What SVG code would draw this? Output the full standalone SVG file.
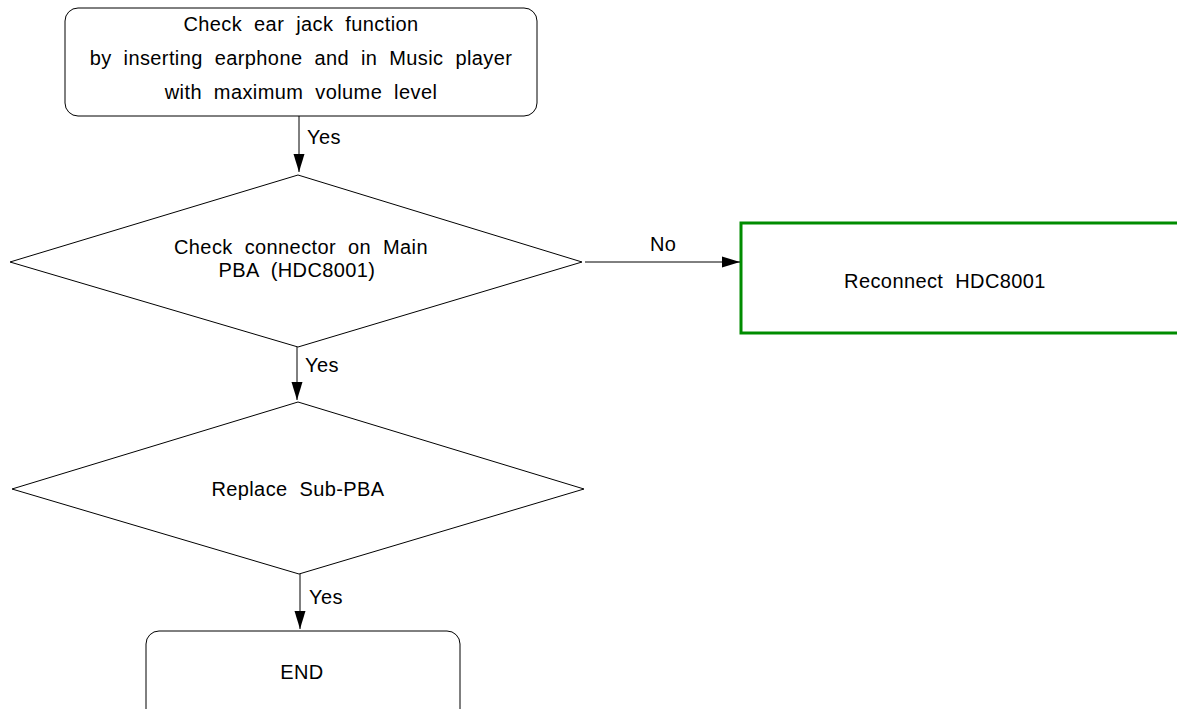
<svg xmlns="http://www.w3.org/2000/svg" width="1177" height="709" viewBox="0 0 1177 709">
<defs>
<style>
.t{font-family:"Liberation Sans",Arial,sans-serif;font-size:20px;fill:#000;text-anchor:middle;letter-spacing:0.4px;word-spacing:6px}
.l{font-family:"Liberation Sans",Arial,sans-serif;font-size:20px;fill:#000;letter-spacing:0.4px}
.s{fill:#fff;stroke:#000;stroke-width:1}
.c{fill:none;stroke:#000;stroke-width:1}
</style>
<marker id="ah" markerWidth="18" markerHeight="12" refX="18" refY="6" orient="auto" markerUnits="userSpaceOnUse">
<path d="M0,0.5 L18,6 L0,11.5 Z" fill="#000"/>
</marker>
</defs>
<rect width="1177" height="709" fill="#fff"/>
<g id="n1">
<rect class="s" x="65" y="8" width="472" height="108" rx="13"/>
<text class="t" x="301" y="31">Check ear jack function</text>
<text class="t" x="301" y="65">by inserting earphone and in Music player</text>
<text class="t" x="301" y="99">with maximum volume level</text>
</g>
<g id="n2">
<polygon class="s" points="298,175 582,262 298,347 10,262"/>
<text class="t" x="301" y="254">Check connector on Main</text>
<text class="t" x="297" y="277">PBA (HDC8001)</text>
</g>
<g id="n3">
<rect x="741" y="223" width="440" height="110" fill="#fff" stroke="#008c00" stroke-width="3"/>
<text class="t" x="945" y="288">Reconnect HDC8001</text>
</g>
<g id="n4">
<polygon class="s" points="298,402 584,489 299,574 12,489"/>
<text class="t" x="298" y="496">Replace Sub-PBA</text>
</g>
<g id="n5">
<rect class="s" x="146" y="631" width="314" height="100" rx="13"/>
<text class="t" x="302" y="679">END</text>
</g>
<g id="connectors">
<line class="c" x1="299" y1="116" x2="299" y2="172" marker-end="url(#ah)"/>
<text class="l" x="307" y="144">Yes</text>
<line class="c" x1="585" y1="262" x2="740" y2="262" marker-end="url(#ah)"/>
<text class="l" x="650" y="251">No</text>
<line class="c" x1="297" y1="347" x2="297" y2="400" marker-end="url(#ah)"/>
<text class="l" x="305" y="372">Yes</text>
<line class="c" x1="300" y1="574" x2="300" y2="629" marker-end="url(#ah)"/>
<text class="l" x="309" y="604">Yes</text>
</g>
</svg>
